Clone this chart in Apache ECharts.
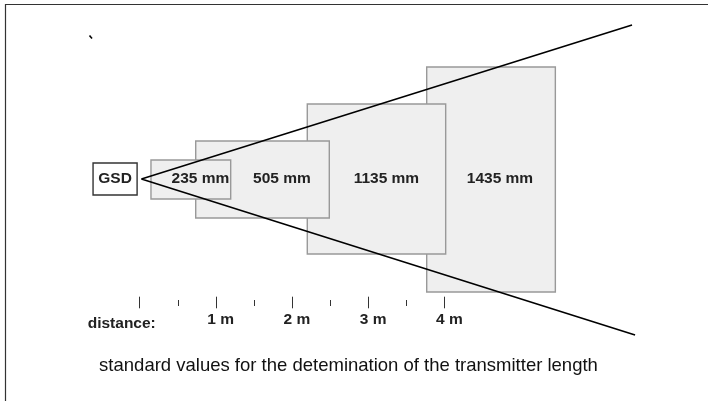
<!DOCTYPE html>
<html>
<head>
<meta charset="utf-8">
<title>GSD transmitter length</title>
<script src="https://cdn.jsdelivr.net/npm/echarts@6/dist/echarts.min.js"></script>
<style>
  html, body { margin: 0; padding: 0; background: #fff; }
  #chart { width: 708px; height: 401px; }
</style>
</head>
<body>
<div id="chart"></div>
<script>
// measuring fields: x in metres from the sensor, y = lateral offset from the beam axis
var fieldLabels = ['235 mm', '505 mm', '1135 mm', '1435 mm'];
var fieldStart = [0.151, 0.738, 2.202, 3.769];
var fieldEnd = [1.197, 2.491, 4.018, 5.457];
var fieldTop = [19, 38, 75, 112];
var fieldBottom = [-20, -39, -75, -113];
var fieldLabelAt = [0.80, 1.87, 3.24, 4.73];

// beam outline: upper end, apex, lower end
var beamX = [6.463, 0.026, 6.503];
var beamY = [154, 0, -156];

// sensor box (x0, x1, top, bottom)
var gsdBox = [-0.609, -0.031, 16, -16];

// distance scale
var majorTicks = [0, 1, 2, 3, 4];
var minorTicks = [0.5, 1.5, 2.5, 3.5];
var scaleLabelAt = [1, 2, 3, 4];
var scaleLabels = ['1 m', '2 m', '3 m', '4 m'];

var FONT = "'Liberation Sans', Arial, Helvetica, sans-serif";

var chart = echarts.init(document.getElementById('chart'));

var fieldData = fieldLabels.map(function (name, i) {
  return [fieldStart[i], fieldEnd[i], fieldTop[i], fieldBottom[i], i];
});
var tickData = majorTicks.map(function (v) { return [v, 1]; })
  .concat(minorTicks.map(function (v) { return [v, 0]; }));

var option = {
  animation: false,
  grid: { left: 0, right: 0, top: 0, bottom: 0 },
  xAxis: { type: 'value', min: -1.83, max: 7.46, show: false },
  yAxis: { type: 'value', min: -222, max: 179, show: false },
  graphic: [
    // frame
    { type: 'line', shape: { x1: 5, y1: 4.5, x2: 708, y2: 4.5 }, style: { stroke: '#333', lineWidth: 1.2 } },
    { type: 'line', shape: { x1: 5.5, y1: 4, x2: 5.5, y2: 401 }, style: { stroke: '#333', lineWidth: 1.2 } },
    // stray mark
    { type: 'line', shape: { x1: 89.5, y1: 35.5, x2: 92, y2: 38.5 }, style: { stroke: '#000', lineWidth: 1.6 } },
    {
      type: 'text', left: 87.7, top: 316,
      style: { text: 'distance:', font: 'bold 15.5px ' + FONT, fill: '#222' }
    },
    {
      type: 'text', x: 348.5, y: 366,
      style: {
        text: 'standard values for the detemination of the transmitter length',
        font: '18.5px ' + FONT, fill: '#111', align: 'center', verticalAlign: 'middle'
      }
    }
  ],
  series: [
    {
      type: 'custom',
      z: 2,
      data: fieldData,
      renderItem: function (params, api) {
        var p0 = api.coord([api.value(0), api.value(2)]);
        var p1 = api.coord([api.value(1), api.value(3)]);
        return {
          type: 'rect',
          z2: 10 - api.value(4),
          shape: { x: p0[0], y: p0[1], width: p1[0] - p0[0], height: p1[1] - p0[1] },
          style: { fill: '#efefef', stroke: '#999', lineWidth: 1.4 }
        };
      }
    },
    {
      type: 'line',
      z: 3,
      data: beamX.map(function (x, i) { return [x, beamY[i]]; }),
      symbol: 'none',
      lineStyle: { color: '#000', width: 1.6 }
    },
    {
      type: 'custom',
      z: 4,
      data: fieldLabels.map(function (name, i) { return [fieldLabelAt[i], 0, name]; }),
      renderItem: function (params, api) {
        var p = api.coord([api.value(0), api.value(1)]);
        return {
          type: 'text',
          style: {
            text: fieldLabels[params.dataIndex], x: p[0], y: p[1],
            font: 'bold 15.5px ' + FONT, fill: '#222', align: 'center', verticalAlign: 'middle'
          }
        };
      }
    },
    {
      type: 'custom',
      z: 4,
      data: [gsdBox],
      renderItem: function (params, api) {
        var p0 = api.coord([api.value(0), api.value(2)]);
        var p1 = api.coord([api.value(1), api.value(3)]);
        return {
          type: 'group',
          children: [
            {
              type: 'rect',
              shape: { x: p0[0], y: p0[1], width: p1[0] - p0[0], height: p1[1] - p0[1] },
              style: { fill: '#fff', stroke: '#333', lineWidth: 1.4 }
            },
            {
              type: 'text',
              style: {
                text: 'GSD', x: (p0[0] + p1[0]) / 2, y: (p0[1] + p1[1]) / 2,
                font: 'bold 15.5px ' + FONT, fill: '#222', align: 'center', verticalAlign: 'middle'
              }
            }
          ]
        };
      }
    },
    {
      type: 'custom',
      z: 4,
      data: tickData,
      renderItem: function (params, api) {
        var major = api.value(1) === 1;
        var a = api.coord([api.value(0), major ? -117.7 : -121]);
        var b = api.coord([api.value(0), major ? -129.3 : -127]);
        return {
          type: 'line',
          shape: { x1: Math.round(a[0]) + 0.5, y1: a[1], x2: Math.round(a[0]) + 0.5, y2: b[1] },
          style: { stroke: '#333', lineWidth: 1 }
        };
      }
    },
    {
      type: 'custom',
      z: 4,
      data: scaleLabelAt.map(function (v) { return [v, -141]; }),
      renderItem: function (params, api) {
        var p = api.coord([api.value(0), api.value(1)]);
        return {
          type: 'text',
          style: {
            text: scaleLabels[params.dataIndex], x: p[0] + 5, y: p[1],
            font: 'bold 15.5px ' + FONT, fill: '#222', align: 'center', verticalAlign: 'middle'
          }
        };
      }
    }
  ]
};

chart.setOption(option);
</script>
</body>
</html>
